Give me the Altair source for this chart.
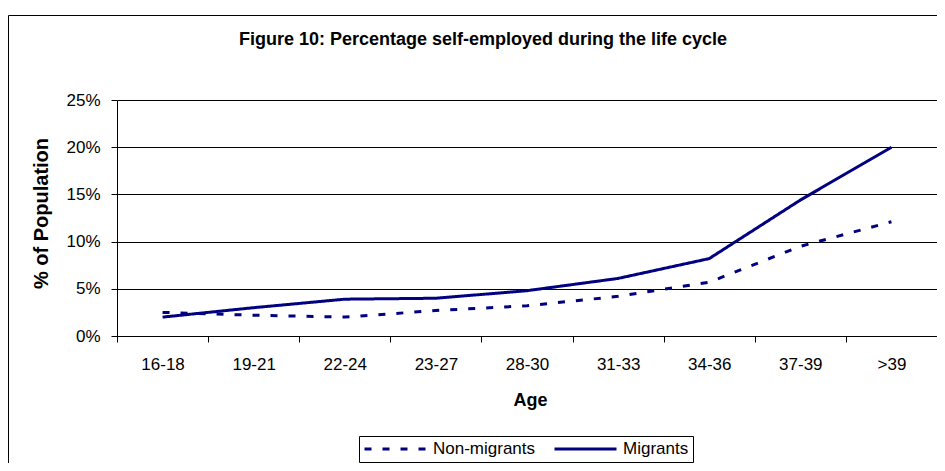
import altair as alt
import pandas as pd

ages = ["16-18", "19-21", "22-24", "23-27", "28-30", "31-33", "34-36", "37-39", ">39"]
non_migrants = [2.5, 2.2, 2.0, 2.7, 3.2, 4.2, 5.7, 9.5, 12.1]
migrants = [2.0, 3.0, 3.9, 4.0, 4.8, 6.1, 8.2, 14.4, 20.0]
series_names = ["Non-migrants", "Migrants"]

rows = []
for a, v in zip(ages, non_migrants):
    rows.append({"Age": a, "Value": v, "Series": series_names[0]})
for a, v in zip(ages, migrants):
    rows.append({"Age": a, "Value": v, "Series": series_names[1]})
df = pd.DataFrame(rows)

FONT = "Liberation Sans"
NAVY = "#000080"
W, H = 820, 236

legend = alt.Legend(title=None, orient="none", direction="horizontal",
                    legendX=242, legendY=336,
                    symbolType="stroke", symbolSize=3844, clipHeight=18,
                    symbolStrokeWidth=3, symbolStrokeColor=NAVY,
                    labelFont=FONT, labelFontSize=17,
                    labelColor="black", labelOffset=5,
                    columnPadding=17, padding=4,
                    strokeColor="black")

frame = alt.Chart(pd.DataFrame({"k": [0]})).mark_rect(
    fill=None, stroke="black", strokeWidth=1, clip=False
).encode(
    x=alt.value(-108.5), x2=alt.value(860), y=alt.value(-84.5), y2=alt.value(400)
)

lines = alt.Chart(df).mark_line(strokeWidth=3, clip=False).encode(
    x=alt.X("Age:N", sort=ages, bandPosition=0.5,
            scale=alt.Scale(type="band", paddingInner=0, paddingOuter=0),
            axis=alt.Axis(title="Age", tickBand="extent", labelAngle=0,
                          labelFontSize=17, labelFont=FONT, labelColor="black",
                          labelPadding=14, tickSize=6, tickColor="black",
                          domainColor="black", grid=False,
                          titleFont=FONT, titleFontSize=18, titleFontWeight="bold",
                          titleColor="black", titleX=W / 2 + 3, titleY=64,
                          titleBaseline="middle")),
    y=alt.Y("Value:Q",
            scale=alt.Scale(domain=[0, 25], nice=False),
            axis=alt.Axis(title="% of Population", values=[0, 5, 10, 15, 20, 25],
                          labelExpr="datum.value + '%'",
                          labelFontSize=17, labelFont=FONT, labelColor="black",
                          labelPadding=11, tickSize=6, tickColor="black",
                          domainColor="black", gridColor="black", gridWidth=1,
                          titleFont=FONT, titleFontSize=20, titleFontWeight="bold",
                          titleColor="black", titleAngle=270, titleX=-76, titleY=113,
                          titleAlign="center", titleBaseline="middle")),
    color=alt.Color("Series:N", sort=series_names,
                    scale=alt.Scale(domain=series_names, range=[NAVY, NAVY]),
                    legend=legend),
    strokeDash=alt.StrokeDash("Series:N", sort=series_names,
                              scale=alt.Scale(domain=series_names, range=[[7, 11], [1, 0]]),
                              legend=legend),
)

chart = alt.layer(frame, lines).properties(
    width=W, height=H,
    title=alt.TitleParams("Figure 10: Percentage self-employed during the life cycle",
                          font=FONT, fontSize=18, fontWeight="bold", color="black",
                          anchor="middle", frame="group", dx=-44, offset=-48,
                          baseline="alphabetic"),
    autosize=alt.AutoSizeParams(type="none"),
    padding={"left": 109, "top": 92, "right": 0, "bottom": 127},
).configure_view(stroke="#808080", strokeWidth=1).configure(background="white")

chart.save("out.html", embed_options={"renderer": "svg", "actions": False})
